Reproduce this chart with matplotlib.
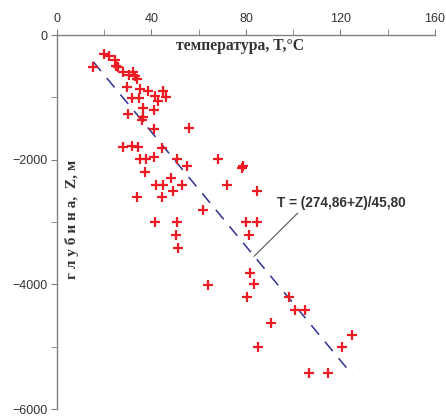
import numpy as np
import matplotlib
matplotlib.use('Agg')
import matplotlib.pyplot as plt

# temperature T (C) and depth Z (m)
temp = [15.4, 19.8, 22.1, 24.5, 24.9, 26.0, 27.9, 30.6, 32.2, 32.9, 33.7,
        29.5, 35.1, 38.6, 44.9, 41.5, 46.1, 42.6, 31.7, 34.6, 36.5, 41.1,
        30.2, 36.5, 35.9, 41.2, 55.9, 27.9, 31.9, 34.4, 44.6, 35.1, 37.7,
        41.1, 50.8, 55.2, 68.3, 37.4, 48.1, 41.8, 45.0, 52.9, 49.2, 72.1,
        33.7, 44.4, 61.7, 41.5, 50.8, 50.4, 51.3, 63.8, 78.2, 78.9, 84.5,
        79.9, 84.8, 81.4, 81.7, 83.5, 80.3, 98.3, 100.7, 105.0, 90.4,
        125.0, 120.8, 84.9, 106.8, 114.8]
depth = [-505, -303, -330, -400, -494, -520, -600, -638, -600, -660, -707,
         -834, -866, -903, -903, -983, -993, -1052, -1009, -1009, -1169, -1206,
         -1259, -1312, -1355, -1514, -1499, -1796, -1780, -1796, -1806, -1982, -1993,
         -1955, -1993, -2099, -1993, -2205, -2300, -2402, -2402, -2402, -2497, -2402,
         -2603, -2603, -2805, -3002, -3002, -3204, -3411, -4005, -2125, -2100, -2497,
         -3002, -3002, -3204, -3810, -4001, -4208, -4208, -4410, -4410, -4612,
         -4819, -5010, -5010, -5420, -5420]

# regression Z = 274.86 - 45.80*T
a, b = 274.86, 45.80
t_fit = np.array([15.3, 125.0])
z_fit = a - b * t_fit

fig = plt.figure(figsize=(4.46, 4.17), dpi=100)
ax = fig.add_axes([0.1278, 0.019, 0.8475, 0.897])

ax.plot(t_fit, z_fit, color='#2E3192', lw=1.1, linestyle=(0, (8, 6)))
ax.plot(temp, depth, linestyle='none', marker='+', color='#ED1C24',
        markersize=7, markeredgewidth=1.6)

ax.set_xlim(0, 160)
ax.set_ylim(-6000, 0)
ax.xaxis.tick_top()
ax.set_xticks([0, 40, 80, 120, 160])
ax.set_xticks([20, 60, 100, 140], minor=True)
ax.set_yticks([0, -2000, -4000, -6000])
ax.set_yticks([-1000, -3000, -5000], minor=True)
for s in ['right', 'bottom']:
    ax.spines[s].set_visible(False)
for s in ['left', 'top']:
    ax.spines[s].set_color('#808080')
    ax.spines[s].set_linewidth(1.0)
ax.tick_params(which='both', direction='out', color='#808080', length=4,
               labelsize=9, labelcolor='#333333', pad=3)
ax.tick_params(which='both', top=True, bottom=False, right=False)
for lab in ax.get_xticklabels() + ax.get_yticklabels():
    lab.set_fontfamily('Liberation Sans')

ax.text(77.5, -170, 'температура, T,°C', ha='center', va='center',
        family='Liberation Serif', fontweight='bold', fontsize=11.3, color='#333333')
ax.text(6.5, -2960, 'г л у б и н а,  Z, м', ha='center', va='center', rotation=90,
        family='Liberation Serif', fontweight='bold', fontsize=11, color='#333333')

ax.annotate('T = (274,86+Z)/45,80', xy=(83.4, -3550), xytext=(120.5, -2700),
            ha='center', va='center', family='Liberation Sans', fontweight='bold',
            fontsize=9.8, color='#333333',
            arrowprops=dict(arrowstyle='-', color='#555555', lw=0.8,
                            shrinkA=0, shrinkB=0, relpos=(0.18, 0.0)))

fig.savefig('out.png', dpi=100)
